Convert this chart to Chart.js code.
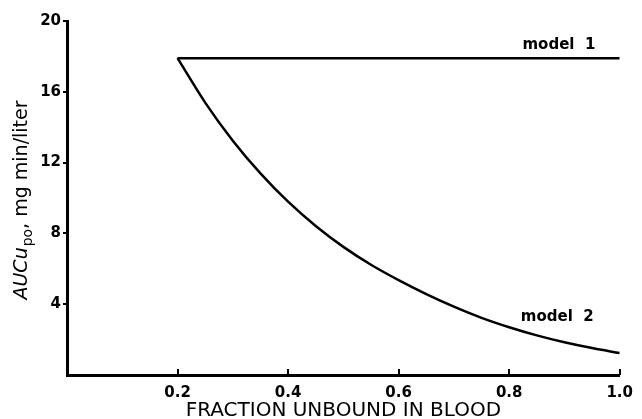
<!DOCTYPE html>
<html>
<head>
<meta charset="utf-8">
<script src="https://cdn.jsdelivr.net/npm/chart.js@4"></script>
<style>
html,body{margin:0;padding:0;background:#fff;}
#wrap{width:642px;height:419px;position:relative;}
</style>
</head>
<body>
<div id="wrap"><canvas id="c" width="642" height="419"></canvas></div>
<script>
const fractionUnbound = [0.2, 0.25, 0.3, 0.35, 0.4, 0.45, 0.5, 0.55, 0.6, 0.65, 0.7, 0.75, 0.8, 0.85, 0.9, 0.95, 1.0];
const model1X = [0.2, 1.0];
const model1Auc = [17.9, 17.9];
const model2Auc = [17.9, 15.39, 13.24, 11.39, 9.79, 8.42, 7.24, 6.23, 5.36, 4.57, 3.86, 3.23, 2.70, 2.24, 1.85, 1.52, 1.24];
const xTicks = [0.2, 0.4, 0.6, 0.8, 1.0];
const yTicks = [4, 8, 12, 16, 20];
const seriesNames = ['model 1', 'model 2'];
const xTitle = 'FRACTION UNBOUND IN BLOOD';
const yTitleParts = ['AUCu', 'po', ', mg min/liter'];

const FONT = '"DejaVu Sans", "Liberation Sans", Arial, sans-serif';

const decor = {
  id: 'decor',
  afterDraw(chart) {
    const ctx = chart.ctx;
    const xs = chart.scales.x, ys = chart.scales.y;
    const ca = chart.chartArea;
    ctx.save();
    ctx.strokeStyle = '#000';
    ctx.lineWidth = 2;
    // x ticks, pointing inward (up)
    xTicks.forEach(v => {
      const px = Math.round(xs.getPixelForValue(v));
      ctx.beginPath();
      ctx.moveTo(px, ca.bottom);
      ctx.lineTo(px, ca.bottom - 6);
      ctx.stroke();
    });
    // y ticks, pointing outward (left)
    yTicks.forEach(v => {
      const py = Math.round(ys.getPixelForValue(v));
      ctx.beginPath();
      ctx.moveTo(ca.left, py);
      ctx.lineTo(ca.left - 4, py);
      ctx.stroke();
    });
    // series labels
    ctx.fillStyle = '#000';
    ctx.font = 'bold 15px ' + FONT;
    ctx.textAlign = 'center';
    ctx.textBaseline = 'middle';
    ctx.fillText(seriesNames[0].replace(' ', '  '), xs.getPixelForValue(0.89), ys.getPixelForValue(18.65));
    ctx.fillText(seriesNames[1].replace(' ', '  '), xs.getPixelForValue(0.887), ys.getPixelForValue(3.25));
    // y title with subscript
    ctx.translate(21, 200);
    ctx.rotate(-Math.PI / 2);
    const fMain = 'italic 19px ' + FONT;
    const fSub = '14px ' + FONT;
    const fRest = '19px ' + FONT;
    ctx.font = fMain; const w1 = ctx.measureText(yTitleParts[0]).width;
    ctx.font = fSub; const w2 = ctx.measureText(yTitleParts[1]).width;
    ctx.font = fRest; const w3 = ctx.measureText(yTitleParts[2]).width;
    let x0 = -(w1 + w2 + w3 + 1) / 2;
    ctx.textAlign = 'left';
    ctx.textBaseline = 'alphabetic';
    ctx.font = fMain; ctx.fillText(yTitleParts[0], x0, 6);
    x0 += w1;
    ctx.font = fSub; ctx.fillText(yTitleParts[1], x0 + 1, 11);
    x0 += w2 + 1;
    ctx.font = fRest; ctx.fillText(yTitleParts[2], x0, 6);
    ctx.restore();
  }
};

new Chart(document.getElementById('c'), {
  type: 'line',
  data: {
    datasets: [
      {
        label: seriesNames[0],
        data: model1X.map((x, i) => ({x, y: model1Auc[i]})),
        borderColor: '#000', borderWidth: 2.5, pointRadius: 0, tension: 0
      },
      {
        label: seriesNames[1],
        data: fractionUnbound.map((x, i) => ({x, y: model2Auc[i]})),
        borderColor: '#000', borderWidth: 2.5, pointRadius: 0,
        cubicInterpolationMode: 'monotone'
      }
    ]
  },
  options: {
    responsive: false,
    animation: false,
    layout: {padding: {top: 21, right: 19, left: 0, bottom: 0}},
    plugins: {legend: {display: false}, tooltip: {enabled: false}},
    scales: {
      x: {
        type: 'linear', min: 0, max: 1,
        afterFit(s) { s.height = 44; },
        afterBuildTicks(s) { s.ticks = xTicks.map(v => ({value: v})); },
        border: {color: '#000', width: 3},
        grid: {display: false, drawTicks: false},
        ticks: {
          color: '#000', padding: 9, maxRotation: 0,
          font: {family: FONT, size: 15, weight: 'bold'},
          callback: v => v.toFixed(1)
        },
        title: {
          display: true, text: xTitle, color: '#000',
          font: {family: FONT, size: 20}, padding: {top: 0, bottom: -4}
        }
      },
      y: {
        type: 'linear', min: 0, max: 20,
        afterFit(s) { s.width = 67; },
        afterBuildTicks(s) { s.ticks = yTicks.map(v => ({value: v})); },
        border: {color: '#000', width: 3},
        grid: {display: false, drawTicks: false},
        ticks: {
          color: '#000', padding: 6,
          font: {family: FONT, size: 15, weight: 'bold'},
          callback: v => String(v)
        }
      }
    }
  },
  plugins: [decor]
});
</script>
</body>
</html>
